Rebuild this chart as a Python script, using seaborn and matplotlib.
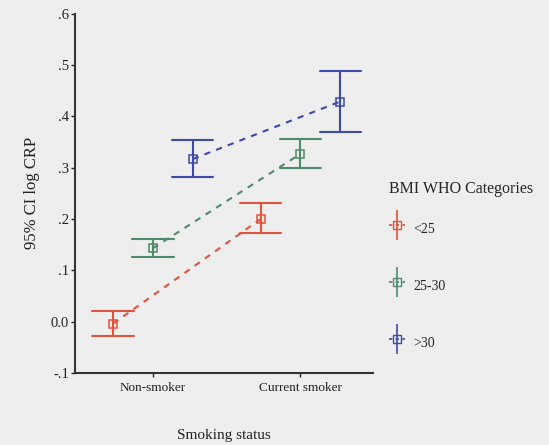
import numpy as np
import pandas as pd
import matplotlib
matplotlib.use("Agg")
import matplotlib.pyplot as plt
import seaborn as sns
from matplotlib.legend_handler import HandlerErrorbar

# ---- data ----
smoking = ["Non-smoker", "Current smoker"]
bmi_groups = ["<25", "25-30", ">30"]
# mean of log CRP and 95% CI bounds, per BMI group, per smoking status
mean_vals = {"<25": [-0.004, 0.200], "25-30": [0.143, 0.327], ">30": [0.317, 0.429]}
ci_low = {"<25": [-0.029, 0.173], "25-30": [0.126, 0.299], ">30": [0.281, 0.370]}
ci_high = {"<25": [0.020, 0.231], "25-30": [0.161, 0.356], ">30": [0.354, 0.489]}
colors = ["#e0533f", "#4f8a6a", "#3c4aa8"]
ytick_vals = [-0.1, 0.0, 0.1, 0.2, 0.3, 0.4, 0.5, 0.6]
ytick_labels = ["-.1", "0.0", ".1", ".2", ".3", ".4", ".5", ".6"]

# long table: each cell holds low / mean / high; median -> mean, (min,max) -> CI
rows = []
for g in bmi_groups:
    for i, s in enumerate(smoking):
        for v in (ci_low[g][i], mean_vals[g][i], ci_high[g][i]):
            rows.append({"Smoking status": s, "BMI WHO Categories": g, "val": v})
df = pd.DataFrame(rows)

sns.set_theme(style="ticks")
plt.rcParams["font.family"] = ["Liberation Serif", "DejaVu Serif"]
bg = "#eeeeee"
fig = plt.figure(figsize=(5.49, 4.45), dpi=100, facecolor=bg)
ax = fig.add_axes([0.137, 0.162, 0.542, 0.807])
ax.set_facecolor(bg)

sns.pointplot(data=df, x="Smoking status", y="val", hue="BMI WHO Categories",
              order=smoking, hue_order=bmi_groups, palette=colors,
              estimator="median", errorbar=lambda x: (x.min(), x.max()),
              dodge=0.54, capsize=0.28, markers="s", linestyles="--",
              markersize=5, linewidth=1.5, err_kws={"linewidth": 1.5},
              legend=False, ax=ax)

for ln in ax.lines:
    if ln.get_marker() == "s":
        ln.set_markerfacecolor("none")
        ln.set_markeredgewidth(1.1)
        ln.set_markersize(6)
    if ln.get_linestyle() == "--":
        ln.set_dashes([3, 3])

ax.set_ylim(-0.1, 0.6)
ax.set_xlim(-0.527, 1.49)
ax.set_yticks(ytick_vals)
ax.set_yticklabels(ytick_labels, fontsize=10.5)
ax.tick_params(axis="both", length=3, width=1, colors="#222222", labelcolor="#222222")
ax.tick_params(axis="y", pad=1.5)
ax.tick_params(axis="x", labelsize=9.5)
for sp in ["top", "right"]:
    ax.spines[sp].set_visible(False)
for sp in ["left", "bottom"]:
    ax.spines[sp].set_color("#333333")
    ax.spines[sp].set_linewidth(1.5)
ax.set_ylabel("95% CI log CRP", fontsize=12, color="#222222", labelpad=8)
ax.set_xlabel("Smoking status", fontsize=11, color="#222222", labelpad=25)

# legend with error-bar glyphs
handles = []
for c in colors:
    cont = ax.errorbar([], [], yerr=[], color=c, marker="s", mfc="none",
                       ls="--", capsize=3, markersize=6, lw=1.2)
    cont.lines[0].set_dashes([2, 2])
    handles.append(cont)
leg = fig.legend(handles, bmi_groups, title="BMI WHO Categories",
                 loc="upper left", bbox_to_anchor=(0.69, 0.615), frameon=False,
                 fontsize=10, title_fontsize=11.5, labelspacing=2.3,
                 handlelength=1.2, handleheight=2.4, handletextpad=0.6,
                 alignment="left", borderpad=0.2,
                 handler_map={type(handles[0]): HandlerErrorbar(xerr_size=0.3, yerr_size=1.1)})
leg._legend_box.sep = 14

fig.savefig("out.png", dpi=100, facecolor=bg)
